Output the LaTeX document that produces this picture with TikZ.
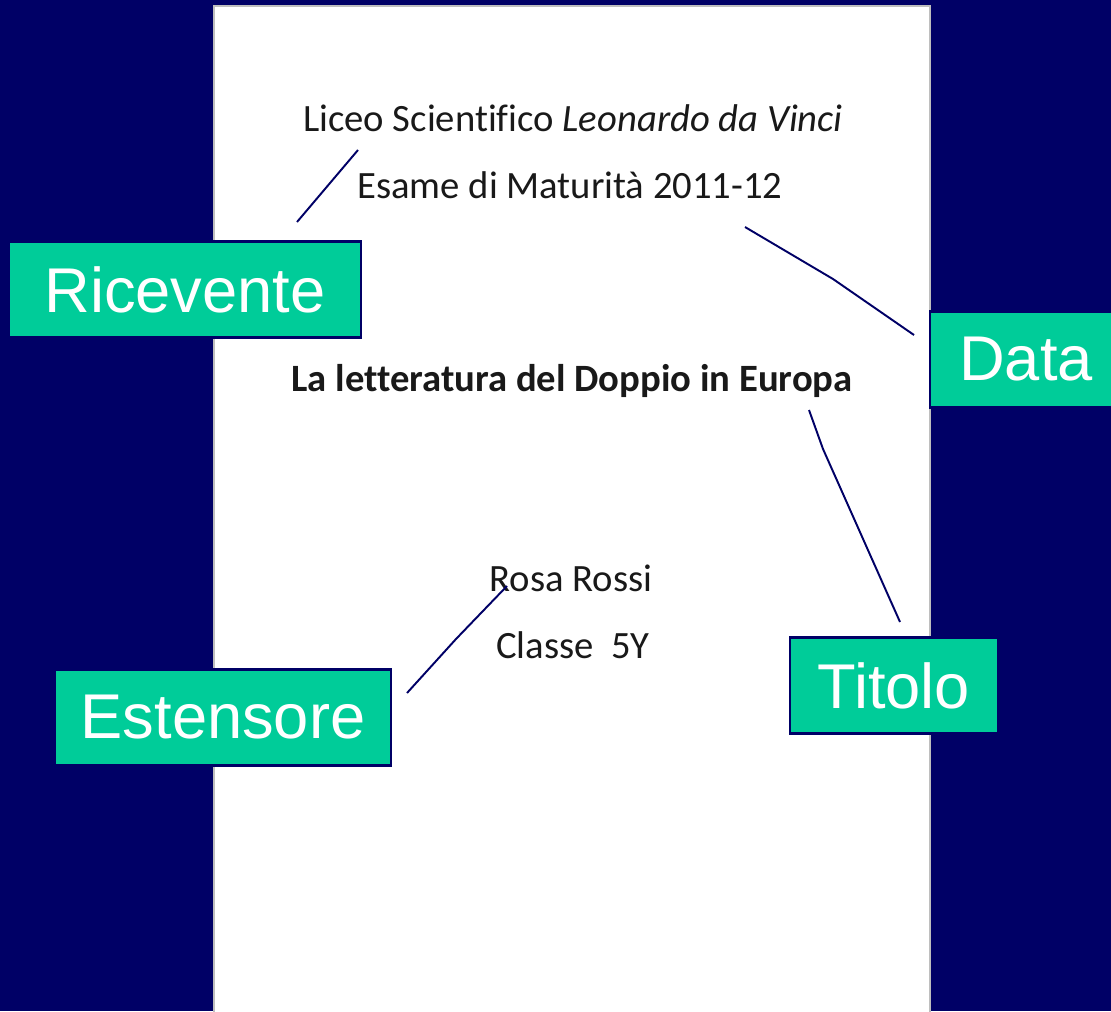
\documentclass[tikz,border=0pt]{standalone}
\usepackage{fontspec}
\setmainfont{Carlito}[Ligatures=NoCommon]
\newfontfamily\labelfont{Liberation Sans}
\usetikzlibrary{positioning,calc}
\definecolor{NavyBg}{RGB}{0,0,102}
\definecolor{LabelGreen}{RGB}{0,204,153}
\definecolor{PageEdge}{RGB}{190,190,190}
\tikzset{
	tag/.style={draw=NavyBg,fill=LabelGreen,line width=1.2pt,text=white,inner sep=0pt,
		font=\labelfont\fontsize{36}{40}\selectfont,minimum height=1.92cm},
	pagetext/.style={text=black!90,inner sep=0pt,font=\fontsize{22}{26}\selectfont},
	pointer/.style={draw=NavyBg,line width=1.1pt,line join=round},
}

\begin{document}
\begin{tikzpicture}[x=0.02cm,y=-0.02cm]
	\fill[NavyBg] (0,0) rectangle (1111,1011);
	\useasboundingbox (0,0) rectangle (1111,1011);
	\filldraw[fill=white,draw=PageEdge,line width=1.2pt] (214,6) rectangle (930,1020);
	% texts on the page
	\node[pagetext] (scuola) at (573,118) {Liceo Scientifico \textit{Leonardo da Vinci}};
	\node[pagetext] (esame) at (570,185) {Esame di Maturità 2011-12};
	\node[pagetext,font=\fontsize{22}{26}\selectfont\bfseries] (opera) at (572,381) {La letteratura del Doppio in Europa};
	\node[pagetext] (nome) at (571,578) {Rosa Rossi};
	\node[pagetext] (classe) at (573,645) {Classe\hspace{0.45em}5Y};
	% labels
	\node[tag,minimum width=7.04cm] (ricevente) at (185,289.5) {Ricevente};
	\node[tag,minimum width=3.84cm] (data) at (1026,359.5) {Data};
	\node[tag,minimum width=4.16cm] (titolo) at (894,685.5) {Titolo};
	\node[tag,minimum width=6.72cm] (estensore) at (223,717.5) {Estensore};
	% pointers
	\coordinate (r1) at (358,150); \coordinate (r2) at (297,222);
	\coordinate (d1) at (745,227); \coordinate (d2) at (914,335);
	\coordinate (t1) at (809,410); \coordinate (t2) at (900,622);
	\coordinate (e1) at (507,586); \coordinate (e2) at (407,693);
	\draw[pointer] (r1)--(r2);
	\draw[pointer] (d1)--(833,279)--(d2);
	\draw[pointer] (t1)--(823,449)--(t2);
	\draw[pointer] (e1)--(456,639)--(e2);
\end{tikzpicture}
\end{document}
